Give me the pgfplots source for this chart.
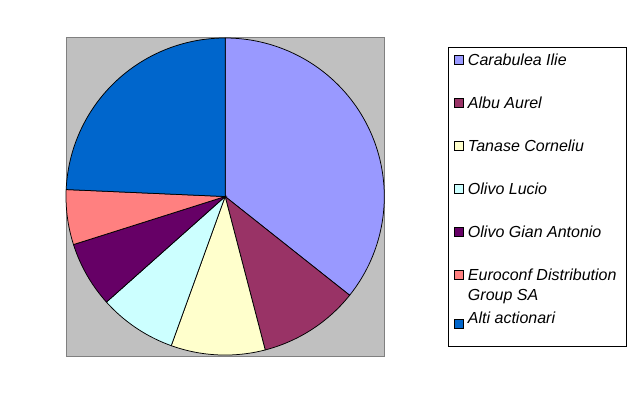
\documentclass[border=0pt]{standalone}
\usepackage{pgfplots}
\pgfplotsset{compat=1.18}
\usepackage{fontspec}
\setmainfont{Liberation Sans}
\definecolor{c1}{HTML}{9999FF}
\definecolor{c2}{HTML}{993366}
\definecolor{c3}{HTML}{FFFFCC}
\definecolor{c4}{HTML}{CCFFFF}
\definecolor{c5}{HTML}{660066}
\definecolor{c6}{HTML}{FF8080}
\definecolor{c7}{HTML}{0066CC}
\definecolor{bggray}{HTML}{C0C0C0}
\definecolor{bdgray}{HTML}{808080}
\begin{document}
\begin{tikzpicture}
\path (0,0) rectangle (636bp,394bp);
% shares (percent): 35.7, 10.25, 9.55, 7.9, 6.7, 5.6, 24.3
% slices drawn clockwise from 90 degrees; domains are the slice angles
\begin{axis}[
  at={(66bp,38bp)}, anchor=south west,
  width=318.3bp, height=318bp, scale only axis,
  xmin=-1, xmax=1, ymin=-1.006, ymax=1,
  xtick=\empty, ytick=\empty,
  clip=false,
  axis background/.style={fill=bggray},
  axis line style={draw=bdgray, line width=1bp},
  legend style={at={(1.2001,0.9718)}, anchor=north west,
    draw=black, line width=0.8bp, fill=white,
    inner xsep=6bp, inner ysep=6.8bp, row sep=28bp, column sep=4bp,
    font=\fontsize{16bp}{19.4bp}\selectfont\itshape,
    nodes={inner sep=0pt, text height=11.5bp, text depth=3.5bp}},
  legend cell align=left,
  legend image code/.code={\draw[#1,line width=0.6bp] (0bp,-3bp) rectangle (9bp,6bp);},
  every axis plot/.append style={draw=black, line width=0.75bp, samples=80},
]
\addplot[fill=c1, domain=-38.52:90] ({cos(x)},{sin(x)}) -- (axis cs:0,0) -- cycle;
\addlegendentry{Carabulea Ilie}
\addplot[fill=c2, domain=-75.42:-38.52] ({cos(x)},{sin(x)}) -- (axis cs:0,0) -- cycle;
\addlegendentry{Albu Aurel}
\addplot[fill=c3, domain=-109.8:-75.42] ({cos(x)},{sin(x)}) -- (axis cs:0,0) -- cycle;
\addlegendentry{Tanase Corneliu}
\addplot[fill=c4, domain=-138.24:-109.8] ({cos(x)},{sin(x)}) -- (axis cs:0,0) -- cycle;
\addlegendentry{Olivo Lucio}
\addplot[fill=c5, domain=-162.36:-138.24] ({cos(x)},{sin(x)}) -- (axis cs:0,0) -- cycle;
\addlegendentry{Olivo Gian Antonio}
\addplot[fill=c6, domain=-182.52:-162.36] ({cos(x)},{sin(x)}) -- (axis cs:0,0) -- cycle;
\addlegendentry{\begin{tabular}[t]{@{}p{152bp}@{}}Euroconf Distribution\\Group SA\end{tabular}}
\addplot[fill=c7, domain=-270:-182.52] ({cos(x)},{sin(x)}) -- (axis cs:0,0) -- cycle;
\addlegendentry[text depth=15.5bp]{Alti actionari}
\end{axis}
\end{tikzpicture}
\end{document}
